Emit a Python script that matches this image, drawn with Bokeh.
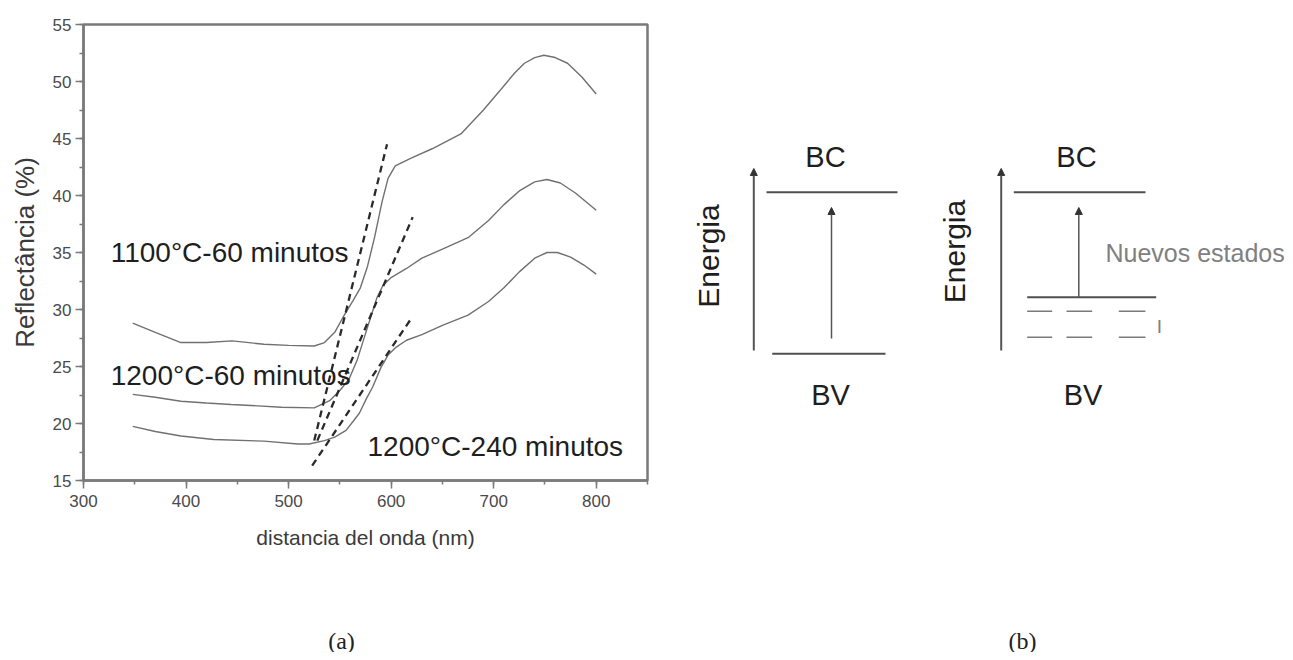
from bokeh.plotting import figure
from bokeh.layouts import column, row
from bokeh.models import Range1d, SingleIntervalTicker, Arrow, NormalHead
from bokeh.core.properties import value
from bokeh.embed import file_html
from bokeh.resources import INLINE

# ---------------- data (a) ----------------
wl_1100_60 = [348, 370, 395, 420, 445, 476, 500, 525, 535, 545, 553, 563, 570, 577, 584, 591, 597, 604, 620, 640, 668, 690, 707, 720, 730, 740, 749, 760, 772, 786, 800]
r_1100_60 = [28.8, 28.0, 27.1, 27.1, 27.25, 26.95, 26.85, 26.8, 27.1, 28.0, 29.3, 30.8, 31.9, 33.8, 36.4, 39.4, 41.5, 42.6, 43.3, 44.1, 45.4, 47.5, 49.3, 50.7, 51.6, 52.1, 52.3, 52.1, 51.6, 50.4, 48.9]

wl_1200_60 = [348, 370, 395, 420, 444, 470, 493, 525, 540, 550, 559, 567, 574, 580, 586, 592, 600, 615, 630, 650, 675, 695, 710, 725, 740, 752, 765, 780, 800]
r_1200_60 = [22.55, 22.3, 21.95, 21.8, 21.67, 21.55, 21.43, 21.37, 22.0, 22.9, 23.9, 25.6, 27.6, 29.3, 31.0, 32.1, 32.8, 33.6, 34.5, 35.3, 36.3, 37.8, 39.2, 40.4, 41.2, 41.4, 41.1, 40.2, 38.7]

wl_1200_240 = [348, 370, 395, 427, 476, 509, 520, 535, 545, 556, 563, 569, 576, 582, 590, 597, 605, 615, 630, 650, 675, 695, 710, 725, 740, 752, 762, 775, 788, 800]
r_1200_240 = [19.75, 19.3, 18.9, 18.6, 18.45, 18.2, 18.2, 18.5, 18.8, 19.4, 20.2, 20.9, 22.2, 23.2, 24.9, 26.0, 26.7, 27.3, 27.8, 28.6, 29.5, 30.7, 31.9, 33.3, 34.5, 35.0, 35.0, 34.6, 33.9, 33.1]

# tangent (band-edge) lines: start / end points
fit_x0 = [525, 528, 523]
fit_y0 = [18.5, 18.5, 16.3]
fit_x1 = [596, 621, 619.5]
fit_y1 = [44.5, 38.1, 29.2]

series_labels = ["1100\u00b0C-60 minutos", "1200\u00b0C-60 minutos", "1200\u00b0C-240 minutos"]
series_label_x = [326.5, 326.5, 577]
series_label_y = [35.0, 24.25, 18.0]

x_title = "distancia del onda (nm)"
y_title = "Reflect\u00e2ncia (%)"

# ---------------- schematic (b) ----------------
band_text = ["BC", "BV", "BC", "BV"]
band_text_x = [137, 142, 388, 394.5]
band_text_y = [324, 86, 324, 86]
energy_label_x = [20.3, 266]
energy_label_y = [224.5, 229]
level_x0 = [78, 83.7, 325.3, 338.7]
level_x1 = [209, 197, 457, 467.7]
level_y = [288.3, 126.7, 288.3, 183.3]
defect_y = [169.3, 143.3]
defect_x0 = [338.7, 378, 430.3]
defect_x1 = [363.7, 403.7, 457]
axis_arrow_x = [65.3, 312.7]
axis_arrow_y0, axis_arrow_y1 = 130, 312
trans_x = [143, 390.3]
trans_y0 = [142, 183.3]
trans_y1 = [273, 273]
captions = ["(a)", "(b)"]
caption_x = [341, 1022]

FONT = value("Liberation Sans")

# ---------------- figure (a) ----------------
p1 = figure(width=688, height=580, x_range=Range1d(300, 850), y_range=Range1d(15, 55),
            output_backend="svg", toolbar_location=None,
            min_border_left=83, min_border_right=41, min_border_top=24, min_border_bottom=100)
p1.xgrid.visible = False
p1.ygrid.visible = False
p1.outline_line_color = "#7a7a7a"
p1.outline_line_width = 2.5
p1.xaxis.ticker = SingleIntervalTicker(interval=100, num_minor_ticks=2)
p1.yaxis.ticker = SingleIntervalTicker(interval=5, num_minor_ticks=2)
for ax in (p1.xaxis[0], p1.yaxis[0]):
    ax.axis_line_color = "#7a7a7a"
    ax.axis_line_width = 2.5
    ax.major_tick_line_color = "#7a7a7a"
    ax.minor_tick_line_color = "#7a7a7a"
    ax.major_tick_line_width = 1.5
    ax.minor_tick_line_width = 1.5
    ax.major_tick_out = 8
    ax.major_tick_in = 0
    ax.minor_tick_out = 4
    ax.minor_tick_in = 0
    ax.major_label_text_font = "Liberation Sans"
    ax.major_label_text_font_size = "17px"
    ax.major_label_text_color = "#4a4a4a"
    ax.axis_label_text_font = "Liberation Sans"
    ax.axis_label_text_font_style = "normal"
    ax.axis_label_text_color = "#3a3a3a"
p1.xaxis.axis_label = x_title
p1.yaxis.axis_label = y_title
p1.xaxis.axis_label_text_font_size = "21px"
p1.yaxis.axis_label_text_font_size = "26px"
p1.xaxis.major_label_standoff = 6
p1.yaxis.major_label_standoff = 4
p1.xaxis.axis_label_standoff = 16
p1.yaxis.axis_label_standoff = 10

curve_color = "#707070"
p1.line(wl_1100_60, r_1100_60, line_color=curve_color, line_width=1.4)
p1.line(wl_1200_60, r_1200_60, line_color=curve_color, line_width=1.4)
p1.line(wl_1200_240, r_1200_240, line_color=curve_color, line_width=1.4)
p1.segment(x0=fit_x0, y0=fit_y0, x1=fit_x1, y1=fit_y1, line_color="#2a2a2a",
           line_width=2.3, line_dash="7 5")
p1.text(x=series_label_x, y=series_label_y, text=series_labels, text_font=FONT,
        text_font_size="28px", text_color="#1e1e1e", text_baseline="alphabetic", text_align="left")

# ---------------- figure (b) ----------------
p2 = figure(width=605, height=580, x_range=Range1d(0, 605), y_range=Range1d(0, 456),
            output_backend="svg", toolbar_location=None, x_axis_type=None, y_axis_type=None,
            min_border_left=0, min_border_right=0, min_border_top=24, min_border_bottom=100)
p2.xgrid.visible = False
p2.ygrid.visible = False
p2.outline_line_color = None

p2.segment(x0=level_x0, y0=level_y, x1=level_x1, y1=level_y, line_color="#505050", line_width=2)
for yd in defect_y:
    p2.segment(x0=defect_x0, y0=[yd] * len(defect_x0), x1=defect_x1, y1=[yd] * len(defect_x1),
               line_color="#7a7a7a", line_width=1.6)
for xa in axis_arrow_x:
    p2.add_layout(Arrow(end=NormalHead(size=7, fill_color="#333333", line_color="#333333"),
                        x_start=xa, y_start=axis_arrow_y0, x_end=xa, y_end=axis_arrow_y1,
                        line_color="#555555", line_width=2))
for xt, y0, y1 in zip(trans_x, trans_y0, trans_y1):
    p2.add_layout(Arrow(end=NormalHead(size=7, fill_color="#333333", line_color="#333333"),
                        x_start=xt, y_start=y0, x_end=xt, y_end=y1,
                        line_color="#555555", line_width=1.5))
p2.text(x=band_text_x, y=band_text_y, text=band_text, text_font=FONT, text_font_size="29px",
        text_color="#1e1e1e", text_align="center", text_baseline="middle")
p2.text(x=energy_label_x, y=energy_label_y, text=["Energia", "Energia"], text_font=FONT,
        text_font_size="30px", text_color="#1e1e1e", text_align="center", text_baseline="middle",
        angle=1.5708)
p2.text(x=[417], y=[227.5], text=["Nuevos estados"], text_font=FONT, text_font_size="25px",
        text_color="#808080", text_align="left", text_baseline="middle")
p2.text(x=[471], y=[154], text=["I"], text_font=FONT, text_font_size="19px",
        text_color="#808080", text_align="center", text_baseline="middle")

# ---------------- captions ----------------
p3 = figure(width=1293, height=72, x_range=Range1d(0, 1293), y_range=Range1d(0, 72),
            output_backend="svg", toolbar_location=None, x_axis_type=None, y_axis_type=None,
            min_border=0)
p3.xgrid.visible = False
p3.ygrid.visible = False
p3.outline_line_color = None
p3.text(x=caption_x, y=[12, 12], text=captions, text_font=value("Liberation Serif"),
        text_font_size="24px", text_color="#222222", text_align="center", text_baseline="middle")

layout = column(row(p1, p2), p3)
open("out.html", "w").write(file_html(layout, INLINE))
